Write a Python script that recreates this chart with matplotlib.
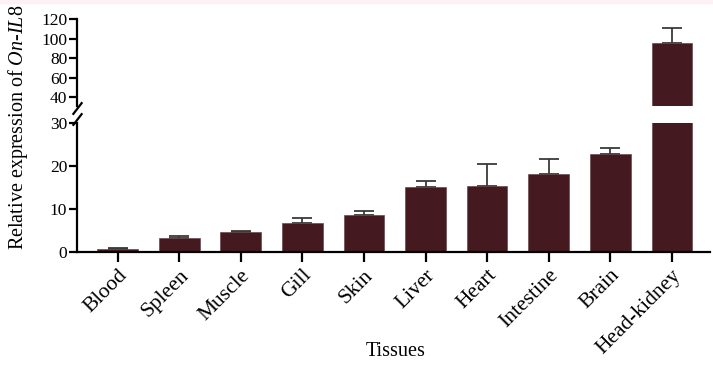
import matplotlib
matplotlib.use("Agg")
import matplotlib.pyplot as plt
import matplotlib.patches as mpatches
import numpy as np

plt.rcParams['font.family'] = ['Liberation Serif', 'DejaVu Serif']
plt.rcParams['mathtext.fontset'] = 'custom'
plt.rcParams['mathtext.it'] = 'Liberation Serif:italic'
plt.rcParams['mathtext.rm'] = 'Liberation Serif'

# relative expression per tissue (mean and upper error)
tissues = ['Blood', 'Spleen', 'Muscle', 'Gill', 'Skin', 'Liver', 'Heart',
           'Intestine', 'Brain', 'Head-kidney']
expr = [0.6, 3.3, 4.6, 6.7, 8.5, 15.2, 15.4, 18.2, 22.7, 95.0]
err = [0.4, 0.4, 0.3, 1.1, 1.1, 1.2, 5.1, 3.5, 1.5, 16.0]
low_ticks = [0, 10, 20, 30]
high_ticks = [40, 60, 80, 100, 120]

bar_col = '#44191f'
err_col = '#3a3a3a'

fig = plt.figure(figsize=(7.13, 3.66), dpi=100)
fig.patches.append(mpatches.Rectangle((0, 1 - 3 / 366), 1, 3 / 366, transform=fig.transFigure,
                                      color='#fdf0f6', zorder=0))

W, H = 713, 366
left, right = 77 / W, 710 / W
ax_lo = fig.add_axes([left, 1 - 252 / H, right - left, 129 / H])
ax_hi = fig.add_axes([left, 1 - 106 / H, right - left, 87 / H])

x = np.arange(len(tissues))
for ax in (ax_lo, ax_hi):
    ax.bar(x, expr, width=0.66, color=bar_col, edgecolor='#6a4a4e', linewidth=0.5, zorder=2)
    ax.errorbar(x, expr, yerr=[np.zeros(len(err)), err], fmt='none', ecolor=err_col,
                elinewidth=1.3, capsize=7.5, capthick=1.3, zorder=1)
    ax.set_xlim(-0.66, 9.62)
    for s in ('top', 'right'):
        ax.spines[s].set_visible(False)
    ax.spines['left'].set_linewidth(1.6)
    ax.spines['bottom'].set_linewidth(1.6)
    ax.tick_params(axis='y', length=6, width=1.6, labelsize=12.5, pad=1)

ax_lo.set_ylim(0, 30)
ax_lo.set_yticks(low_ticks)
ax_hi.set_ylim(30.8, 120)
ax_hi.set_yticks(high_ticks)
ax_hi.spines['bottom'].set_visible(False)
ax_hi.tick_params(axis='x', bottom=False, labelbottom=False)

ax_lo.set_xticks(x)
ax_lo.set_xticklabels(tissues, rotation=45, ha='right', rotation_mode='anchor', fontsize=15.5)
ax_lo.tick_params(axis='x', length=7, width=1.6, pad=3)

# slash marks where the y axis is broken
kw = dict(marker=[(-1, -1.3), (1, 1.3)], markersize=9, linestyle='none', color='k',
          mec='k', mew=1.6, clip_on=False)
ax_lo.plot([0], [1.03], transform=ax_lo.transAxes, **kw)
ax_hi.plot([0], [-0.02], transform=ax_hi.transAxes, **kw)

fig.text(396 / W, 1 - 352 / H, 'Tissues', ha='center', va='center', fontsize=14.5)
fig.text(18 / W, 1 - 127 / H, r'Relative expression of $\mathit{On}$-$\mathit{IL8}$',
         rotation=90, ha='center', va='center', fontsize=14.5)

fig.savefig('out.png', dpi=100)
